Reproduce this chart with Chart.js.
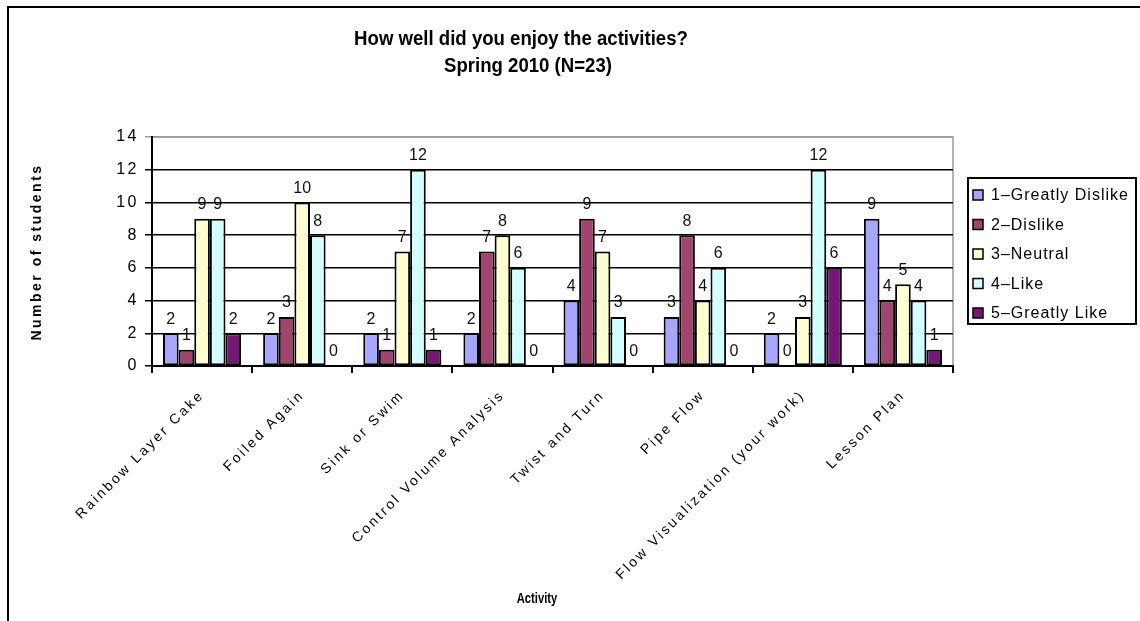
<!DOCTYPE html>
<html>
<head>
<meta charset="utf-8">
<script src="https://cdn.jsdelivr.net/npm/chart.js@4.4.1/dist/chart.umd.min.js"></script>
<style>
  html, body { margin: 0; padding: 0; background: #fff; }
  #chart { display: block; }
</style>
</head>
<body>
<canvas id="chart" width="1140" height="621"></canvas>
<script>
// survey results, number of students per rating
var activities = ["Rainbow Layer Cake", "Foiled Again", "Sink or Swim", "Control Volume Analysis",
    "Twist and Turn", "Pipe Flow", "Flow Visualization (your work)", "Lesson Plan"];
var greatlyDislike = [2, 2, 2, 2, 4, 3, 2, 9];
var dislike        = [1, 3, 1, 7, 9, 8, 0, 4];
var neutral        = [9, 10, 7, 8, 7, 4, 3, 5];
var like           = [9, 8, 12, 6, 3, 6, 12, 4];
var greatlyLike    = [2, 0, 1, 0, 0, 0, 6, 1];
var seriesNames = ["1\u2013Greatly Dislike", "2\u2013Dislike", "3\u2013Neutral", "4\u2013Like", "5\u2013Greatly Like"];
var yTicks = [0, 2, 4, 6, 8, 10, 12, 14];

var colors = ["#a6a6ff", "#a3446f", "#ffffd0", "#d2ffff", "#751775"];
var FONT = "'Liberation Sans', Arial, sans-serif";

var allSeries = [greatlyDislike, dislike, neutral, like, greatlyLike];
var datasets = allSeries.map(function (vals, i) {
    return {
        label: seriesNames[i],
        data: vals,
        backgroundColor: colors[i],
        borderColor: "#000",
        borderWidth: 2,
        borderSkipped: false,
        categoryPercentage: 0.78,
        barPercentage: 1.0
    };
});

// wide spacing for the axis labels, like the old excel export
var spacing = {
    id: "spacing",
    beforeLayout: function (chart) { chart.ctx.letterSpacing = "2.5px"; },
    beforeDraw: function (chart) { chart.ctx.letterSpacing = "2.5px"; }
};

// frame, titles, legend and value labels
var decorations = {
    id: "decorations",
    beforeDraw: function (chart) {
        var ctx = chart.ctx;
        var a = chart.chartArea;
        ctx.save();
        ctx.fillStyle = "#fff";
        ctx.fillRect(0, 0, chart.width, chart.height);
        // outer frame
        ctx.strokeStyle = "#000";
        ctx.lineWidth = 2;
        ctx.strokeRect(8, 7, chart.width + 20, chart.height + 20);
        // plot border
        ctx.strokeStyle = "#9a9a9a";
        ctx.lineWidth = 1.5;
        ctx.strokeRect(a.left, a.top, a.right - a.left, a.bottom - a.top);
        ctx.restore();
    },
    afterDatasetsDraw: function (chart) {
        var ctx = chart.ctx;
        ctx.save();
        ctx.letterSpacing = "0px";
        ctx.fillStyle = "#111";
        ctx.font = "16px " + FONT;
        ctx.textAlign = "center";
        ctx.textBaseline = "bottom";
        chart.data.datasets.forEach(function (ds, di) {
            var meta = chart.getDatasetMeta(di);
            meta.data.forEach(function (bar, i) {
                ctx.fillText(String(ds.data[i]), bar.x, bar.y - 6);
            });
        });
        ctx.restore();
    },
    afterDraw: function (chart) {
        var ctx = chart.ctx;
        ctx.save();
        ctx.fillStyle = "#000";
        ctx.textAlign = "center";
        ctx.textBaseline = "alphabetic";
        ctx.letterSpacing = "0px";

        ctx.font = "bold 20px " + FONT;
        ctx.save();
        ctx.translate(521, 45);
        ctx.scale(0.93, 1);
        ctx.fillText("How well did you enjoy the activities?", 0, 0);
        ctx.restore();
        ctx.save();
        ctx.translate(528, 72);
        ctx.scale(0.93, 1);
        ctx.fillText("Spring 2010 (N=23)", 0, 0);
        ctx.restore();

        ctx.font = "bold 14px " + FONT;
        ctx.save();
        ctx.translate(537, 603);
        ctx.scale(0.8, 1);
        ctx.fillText("Activity", 0, 0);
        ctx.restore();

        ctx.save();
        ctx.letterSpacing = "2.5px";
        ctx.translate(41, 252);
        ctx.rotate(-Math.PI / 2);
        ctx.fillText("Number of students", 0, 0);
        ctx.restore();

        // legend
        ctx.strokeStyle = "#000";
        ctx.lineWidth = 2;
        ctx.strokeRect(968, 178, 168, 146);
        ctx.font = "16px " + FONT;
        ctx.letterSpacing = "1px";
        ctx.textAlign = "left";
        ctx.textBaseline = "middle";
        chart.data.datasets.forEach(function (ds, i) {
            var y = 195 + i * 29.5;
            ctx.fillStyle = ds.backgroundColor;
            ctx.fillRect(973, y - 5, 10, 10);
            ctx.lineWidth = 1.5;
            ctx.strokeRect(973, y - 5, 10, 10);
            ctx.fillStyle = "#000";
            ctx.fillText(ds.label, 991, y + 1);
        });
        ctx.restore();
    }
};

new Chart(document.getElementById("chart"), {
    type: "bar",
    data: {
        labels: activities,
        datasets: datasets
    },
    plugins: [spacing, decorations],
    options: {
        responsive: false,
        animation: false,
        layout: {
            padding: { top: 137, right: 187, left: 0, bottom: 0 }
        },
        plugins: {
            legend: { display: false },
            title: { display: false },
            tooltip: { enabled: false }
        },
        scales: {
            x: {
                grid: {
                    drawOnChartArea: false,
                    drawTicks: true,
                    tickLength: 7,
                    color: "#000",
                    lineWidth: 2
                },
                border: { color: "#000", width: 2 },
                ticks: {
                    color: "#000",
                    font: { family: FONT, size: 14 },
                    minRotation: 45,
                    maxRotation: 45,
                    padding: 14
                },
                afterFit: function (scale) { scale.height = 255; }
            },
            y: {
                min: 0,
                max: 14,
                afterBuildTicks: function (scale) {
                    scale.ticks = yTicks.map(function (v) { return { value: v }; });
                },
                grid: {
                    color: function (c) { return c.tick && c.tick.value === 14 ? "#9a9a9a" : "#000"; },
                    lineWidth: 1.5,
                    tickLength: 7
                },
                border: { color: "#000", width: 2 },
                ticks: {
                    color: "#000",
                    font: { family: FONT, size: 16 },
                    padding: 6
                },
                afterFit: function (scale) { scale.width = 152; }
            }
        }
    }
});
</script>
</body>
</html>
